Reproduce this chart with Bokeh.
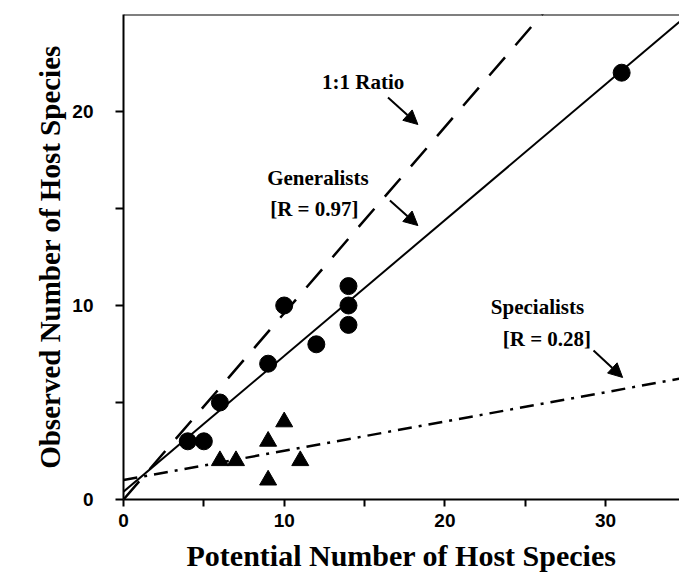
from bokeh.plotting import figure
from bokeh.models import Range1d, FixedTicker, Label, Arrow, NormalHead, Span, Title, LinearAxis
from bokeh.embed import file_html
from bokeh.resources import INLINE

# ---- data ----
gen_x = [4, 5, 6, 9, 10, 12, 14, 14, 14, 31]
gen_y = [3, 3, 5, 7, 10, 8, 11, 10, 9, 22]
spec_x = [6, 7, 9, 9, 10, 11]
spec_y = [2, 2, 3, 1, 4, 2]
gen_intercept, gen_slope = 0.4, 0.70
spec_intercept, spec_slope = 1.0, 0.151
ratio_slope = 0.96
x_major = [0, 10, 20, 30]
x_minor = [5, 15, 25]
y_major = [0, 10, 20]
y_minor = [5, 15]
X_MAX, Y_MAX = 34.6, 25
x_title = "Potential Number of Host Species"
y_title = "Observed Number of Host Species"

p = figure(width=679, height=584, output_backend="svg", toolbar_location=None,
           x_range=Range1d(0, X_MAX), y_range=Range1d(0, Y_MAX),
           min_border_left=123, min_border_top=14, min_border_bottom=85, min_border_right=0)
p.background_fill_color = "white"
p.border_fill_color = "white"
p.outline_line_color = None
p.grid.visible = False

p.xaxis.ticker = FixedTicker(ticks=x_major, minor_ticks=x_minor)
p.yaxis.ticker = FixedTicker(ticks=y_major, minor_ticks=y_minor)
for ax in (p.xaxis, p.yaxis):
    ax.axis_line_width = 2
    ax.axis_line_color = "black"
    ax.major_tick_line_width = 2
    ax.minor_tick_line_width = 2
    ax.major_tick_in = 0
    ax.minor_tick_in = 0
    ax.major_label_text_font = "Liberation Sans"
    ax.major_label_text_font_style = "bold"
    ax.major_label_text_font_size = "19px"
    ax.major_label_text_color = "black"
p.xaxis.major_tick_out = 7
p.xaxis.minor_tick_out = 7
p.xaxis.major_label_standoff = 7
p.yaxis.major_tick_out = 8
p.yaxis.minor_tick_out = 8
p.yaxis.major_label_standoff = 22

# y title carried by a second, bare left axis
title_axis = LinearAxis(ticker=FixedTicker(ticks=[]), axis_line_color=None,
                        major_tick_line_color=None, minor_tick_line_color=None,
                        major_label_text_font_size="0px", axis_label=y_title,
                        axis_label_text_font="Liberation Serif", axis_label_text_font_style="bold",
                        axis_label_text_font_size="29px", axis_label_text_color="black",
                        axis_label_standoff=4)
p.add_layout(title_axis, "left")

ttl = dict(text_font="Liberation Serif", text_font_style="bold", text_color="black", align="center")
p.add_layout(Title(text=x_title, text_font_size="30px", standoff=14, **ttl), "below")

p.add_layout(Span(location=Y_MAX, dimension="width", line_color="black", line_width=2))

# regression / reference lines
lx = [0, X_MAX]
p.line(lx, [gen_intercept + gen_slope * v for v in lx], line_color="black", line_width=2)
p.line(lx, [spec_intercept + spec_slope * v for v in lx], line_color="black", line_width=2.5,
       line_dash="14 7 3 7")
p.line(lx, [ratio_slope * v for v in lx], line_color="black", line_width=2.5, line_dash="24 16")

p.scatter(gen_x, gen_y, marker="circle", size=17, fill_color="black", line_color="black")
p.scatter(spec_x, spec_y, marker="triangle", size=17, fill_color="black", line_color="black")

lab = dict(text_font="Liberation Serif", text_font_style="bold", text_font_size="21px",
           text_color="black", text_baseline="alphabetic")
p.add_layout(Label(x=12.36, y=21.5, text="1:1 Ratio", **lab))
p.add_layout(Label(x=8.94, y=16.55, text="Generalists", **lab))
p.add_layout(Label(x=9.13, y=15.0, text="[R = 0.97]", **lab))
p.add_layout(Label(x=22.86, y=9.9, text="Specialists", **lab))
p.add_layout(Label(x=23.6, y=8.25, text="[R = 0.28]", **lab))

def arrow(x0, y0, x1, y1):
    p.add_layout(Arrow(x_start=x0, y_start=y0, x_end=x1, y_end=y1, line_width=2, line_color="black",
                       end=NormalHead(size=14, fill_color="black", line_color="black")))

arrow(16.46, 20.72, 18.32, 19.33)
arrow(16.58, 15.41, 18.32, 14.12)
arrow(29.25, 7.68, 31.06, 6.29)

open("out.html", "w").write(file_html(p, INLINE))
